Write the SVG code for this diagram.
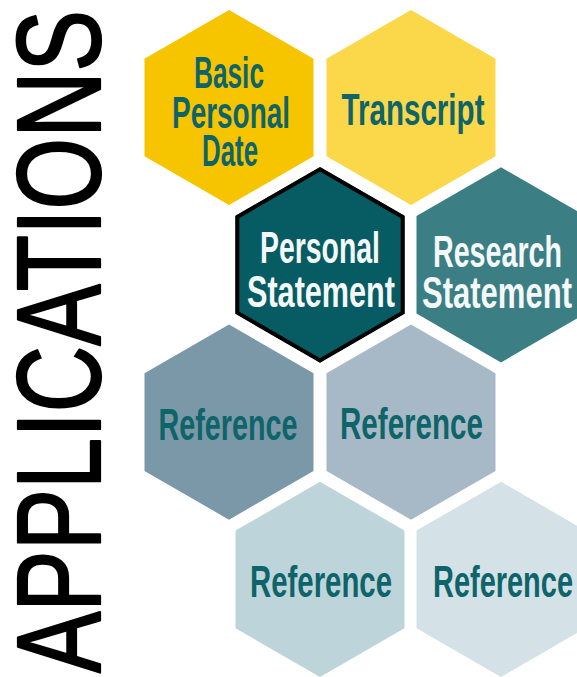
<svg xmlns="http://www.w3.org/2000/svg" xmlns:xlink="http://www.w3.org/1999/xlink" width="577" height="677" viewBox="0 0 577 677">
  <style>
    .lbl { font-family: "Liberation Sans Narrow", "Liberation Sans", Arial, sans-serif; font-weight: bold; font-size: 45px; text-anchor: middle; }
    .dark { fill: #0E6469; }
    .light { fill: #F4F8F8; }
    .title { font-family: "Liberation Sans Narrow", "Liberation Sans", Arial, sans-serif; font-weight: normal; font-size: 118px; fill: #000; stroke: #000; stroke-width: 2.2; stroke-linejoin: round; }
  </style>
  <defs>
    <polygon id="hex" points="0,-97.6 84.5,-48.8 84.5,48.8 0,97.6 -84.5,48.8 -84.5,-48.8"/>
  </defs>
  <rect width="577" height="677" fill="#FFFFFF"/>

  <g id="title">
    <text class="title" transform="translate(100,673) rotate(-90)" x="0" y="0" textLength="663" lengthAdjust="spacingAndGlyphs">APPLICATIONS</text>
  </g>

  <g id="connectors"></g>

  <g id="node-basic">
    <use xlink:href="#hex" href="#hex" transform="translate(229,107.5)" fill="#F6C500"/>
    <text class="lbl dark" x="229" y="88" textLength="70" lengthAdjust="spacingAndGlyphs">Basic</text>
    <text class="lbl dark" x="231" y="128" textLength="118" lengthAdjust="spacingAndGlyphs">Personal</text>
    <text class="lbl dark" x="230" y="166" textLength="56" lengthAdjust="spacingAndGlyphs">Date</text>
  </g>

  <g id="node-transcript">
    <use xlink:href="#hex" href="#hex" transform="translate(411,107.5)" fill="#FBD84A"/>
    <text class="lbl dark" x="413" y="125" textLength="143" lengthAdjust="spacingAndGlyphs">Transcript</text>
  </g>

  <g id="node-personal-statement">
    <use xlink:href="#hex" href="#hex" transform="translate(320,264.8)" fill="#065C62"/>
    <polygon points="320,169.2 402.7,216.9 402.7,312.7 320,360.4 237.3,312.7 237.3,216.9" fill="none" stroke="#000" stroke-width="4" stroke-linejoin="miter"/>
    <text class="lbl light" x="320" y="263" textLength="120" lengthAdjust="spacingAndGlyphs">Personal</text>
    <text class="lbl light" x="321" y="307" textLength="148" lengthAdjust="spacingAndGlyphs">Statement</text>
  </g>

  <g id="node-research-statement">
    <use xlink:href="#hex" href="#hex" transform="translate(501,264.8)" fill="#3B7F84"/>
    <text class="lbl light" x="497.5" y="267" textLength="129" lengthAdjust="spacingAndGlyphs">Research</text>
    <text class="lbl light" x="497" y="308" textLength="150" lengthAdjust="spacingAndGlyphs">Statement</text>
  </g>

  <g id="node-reference-1">
    <use xlink:href="#hex" href="#hex" transform="translate(229,422.1)" fill="#7B98A9"/>
    <text class="lbl dark" x="228" y="440" textLength="139" lengthAdjust="spacingAndGlyphs">Reference</text>
  </g>

  <g id="node-reference-2">
    <use xlink:href="#hex" href="#hex" transform="translate(411,422.1)" fill="#A7B9C6"/>
    <text class="lbl dark" x="411.5" y="439" textLength="143" lengthAdjust="spacingAndGlyphs">Reference</text>
  </g>

  <g id="node-reference-3">
    <use xlink:href="#hex" href="#hex" transform="translate(320,579.4)" fill="#BED4DB"/>
    <text class="lbl dark" x="321" y="597" textLength="142" lengthAdjust="spacingAndGlyphs">Reference</text>
  </g>

  <g id="node-reference-4">
    <use xlink:href="#hex" href="#hex" transform="translate(501,579.4)" fill="#D4E2E8"/>
    <text class="lbl dark" x="503" y="597" textLength="140" lengthAdjust="spacingAndGlyphs">Reference</text>
  </g>
</svg>
